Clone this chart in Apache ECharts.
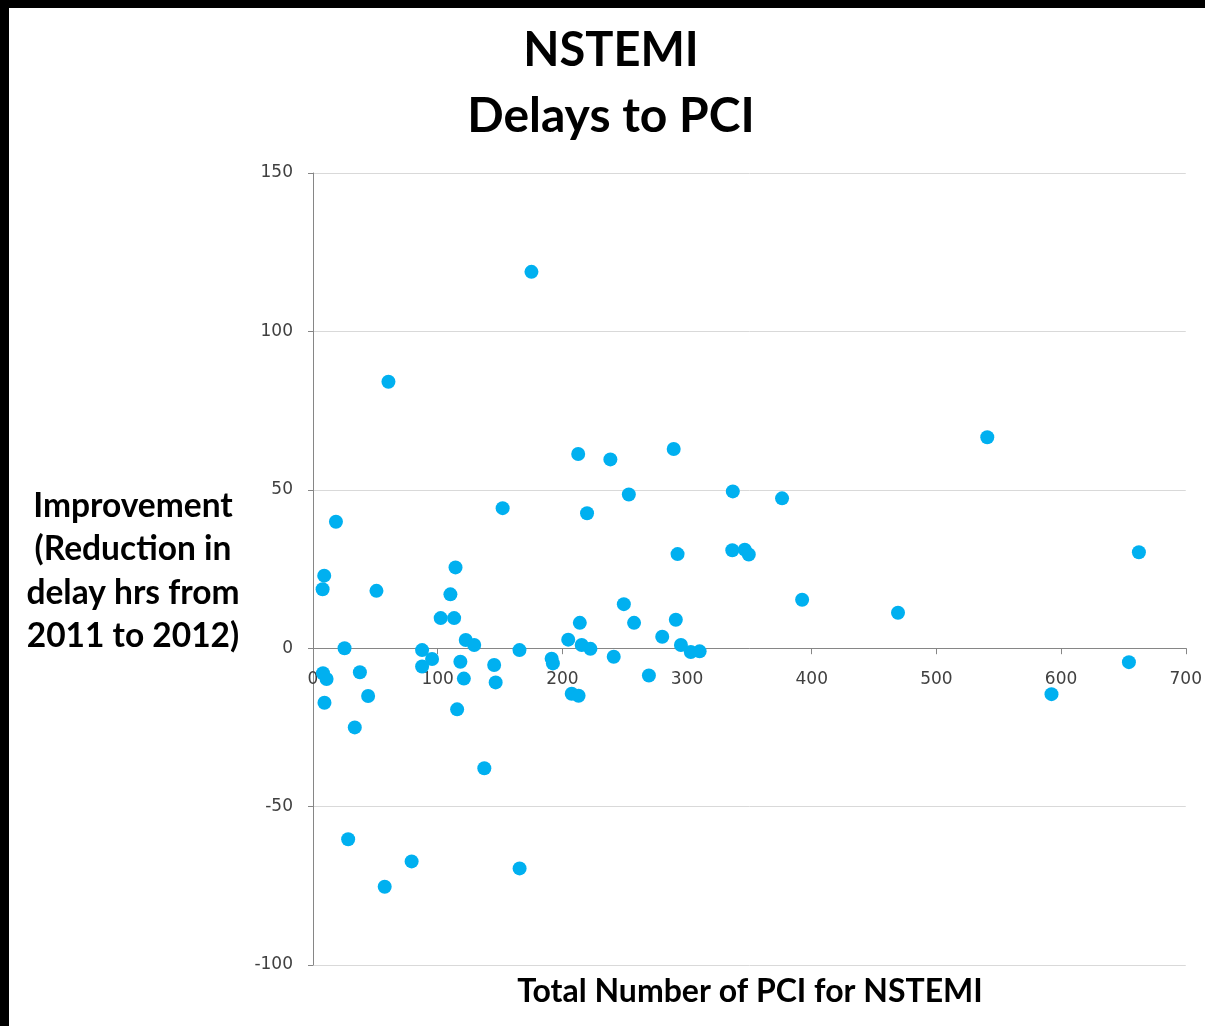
<!DOCTYPE html>
<html><head><meta charset="utf-8">
<script src="https://cdn.jsdelivr.net/npm/echarts@6/dist/echarts.min.js"></script>
<style>
html,body{margin:0;padding:0;background:#000;width:1205px;height:1026px;overflow:hidden}
#c{position:absolute;left:9px;top:8px;width:1196px;height:1018px;background:#fff}
</style>
</head><body><div id="c"></div>
<script>
// Total number of PCI for NSTEMI (x) per centre
const pciCount = [175.2, 60.5, 212.7, 238.5, 289.3, 540.8, 253.3, 336.7, 376.2, 219.8,
  152.1, 18.4, 292.4, 336.3, 346.3, 349.5, 662.4, 9.0, 7.7, 50.9,
  114.3, 110.2, 102.4, 113.2, 392.3, 469.2, 249.3, 214.0, 257.5, 291.0,
  280.1, 204.7, 215.5, 222.5, 122.5, 129.3, 25.3, 87.5, 165.6, 295.1,
  303.0, 310.1, 95.5, 118.2, 87.5, 145.3, 191.4, 192.4, 241.2, 654.4,
  8.0, 10.9, 9.2, 37.6, 44.2, 121.0, 146.5, 269.4, 115.6, 207.5,
  213.0, 592.3, 33.5, 137.4, 28.2, 79.1, 57.5, 165.7];
// Improvement (reduction in delay hrs from 2011 to 2012) (y)
const delayImprovement = [118.8, 84.1, 61.3, 59.6, 62.9, 66.6, 48.5, 49.5, 47.3, 42.6,
  44.2, 39.9, 29.7, 30.9, 31.1, 29.6, 30.3, 22.9, 18.6, 18.1,
  25.5, 17.0, 9.5, 9.5, 15.3, 11.2, 13.9, 8.0, 8.0, 9.0,
  3.6, 2.7, 1.0, -0.2, 2.6, 1.0, 0.0, -0.6, -0.6, 1.0,
  -1.2, -1.0, -3.4, -4.3, -5.8, -5.3, -3.3, -4.8, -2.7, -4.4,
  -7.9, -9.7, -17.2, -7.6, -15.1, -9.6, -10.8, -8.6, -19.3, -14.4,
  -15.0, -14.5, -25.0, -37.9, -60.3, -67.3, -75.3, -69.5];
const xAxisRange = [0, 700, 100];
const yAxisRange = [-100, 150, 50];
const titleLines = ['NSTEMI', 'Delays to PCI'];
const yAxisTitle = 'Improvement\n(Reduction in\ndelay hrs from\n2011 to 2012)';
const xAxisTitle = 'Total Number of PCI for NSTEMI';

const points = pciCount.map((x, i) => [x, delayImprovement[i]]);
const axisGray = '#868686';
const labelStyle = {color: '#404040', fontFamily: 'DejaVu Sans', fontSize: 17};

const gridTop = 165, gridBottom = 61, chartH = 1018;
const gridH = chartH - gridTop - gridBottom;
// place the x axis on the y = 0 line
const zeroOffset = -gridH * (0 - yAxisRange[0]) / (yAxisRange[1] - yAxisRange[0]);

const chart = echarts.init(document.getElementById('c'), null, {renderer: 'canvas'});
chart.setOption({
  backgroundColor: '#fff',
  animation: false,
  grid: {left: 304, right: 14, top: gridTop, bottom: gridBottom, containLabel: false},
  xAxis: {
    type: 'value', min: xAxisRange[0], max: xAxisRange[1], interval: xAxisRange[2],
    offset: zeroOffset,
    axisLine: {show: true, onZero: false, lineStyle: {color: axisGray, width: 1}},
    axisTick: {show: true, length: 6, lineStyle: {color: axisGray}},
    axisLabel: Object.assign({margin: 23}, labelStyle),
    splitLine: {show: false}
  },
  yAxis: {
    type: 'value', min: yAxisRange[0], max: yAxisRange[1], interval: yAxisRange[2],
    axisLine: {show: true, onZero: false, lineStyle: {color: axisGray, width: 1}},
    axisTick: {show: true, length: 5, lineStyle: {color: axisGray}},
    axisLabel: Object.assign({margin: 20, padding: [3, 0, 0, 0]}, labelStyle),
    splitLine: {show: true, lineStyle: {color: '#D9D9D9', width: 1}}
  },
  graphic: [
    {type: 'text', x: 602, y: 43, style: {text: titleLines[0], align: 'center', verticalAlign: 'middle', font: 'bold 47px Lato', fill: '#000'}},
    {type: 'text', x: 602, y: 109, style: {text: titleLines[1], align: 'center', verticalAlign: 'middle', font: 'bold 48px Lato', fill: '#000'}},
    {type: 'text', x: 124, y: 563, style: {text: yAxisTitle, align: 'center', verticalAlign: 'middle', font: 'bold 33.5px Lato', lineHeight: 43.5, fill: '#000'}},
    {type: 'text', x: 741, y: 984, style: {text: xAxisTitle, align: 'center', verticalAlign: 'middle', font: 'bold 32px Lato', fill: '#000'}}
  ],
  series: [{
    type: 'scatter', data: points, symbol: 'circle', symbolSize: 14,
    itemStyle: {color: '#00B0F0', opacity: 1}
  }]
});
</script></body></html>
